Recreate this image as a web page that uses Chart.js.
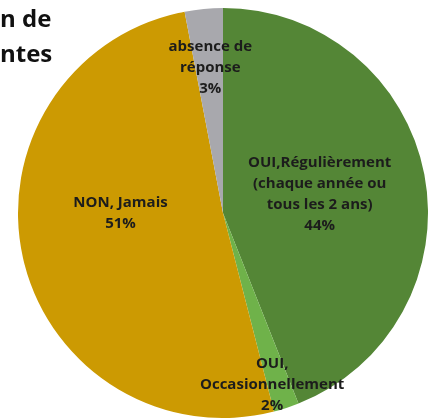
<!DOCTYPE html>
<html>
<head>
<meta charset="utf-8">
<script src="https://cdn.jsdelivr.net/npm/chart.js@4"></script>
<style>
  html, body { margin: 0; padding: 0; background: #fff; }
  #wrap { position: relative; width: 434px; height: 418px; overflow: hidden; }
  canvas { position: absolute; left: 0; top: 0; }
  .titre {
    position: absolute; left: 0; font-family: "Open Sans", sans-serif;
    font-weight: bold; font-size: 24px; color: #111; line-height: 1; white-space: nowrap;
  }
</style>
</head>
<body>
<div id="wrap">
  <canvas id="pie" width="434" height="418"></canvas>
  <div class="titre" style="top:6px">n de</div>
  <div class="titre" style="top:41px">ntes</div>
</div>
<script>
// données
const categories = [
    ['OUI,Régulièrement', '(chaque année ou', 'tous les 2 ans)'],
    ['OUI,', 'Occasionnellement'],
    ['NON, Jamais'],
    ['absence de', 'réponse']
];
const valeurs = [44, 2, 51, 3];
const couleurs = ['#548636', '#6fb24a', '#cc9a02', '#a8a8ad'];

// placement des étiquettes : fraction du rayon + angle (degrés, 0 = midi, sens horaire)
// null = angle du milieu de la part
const placement = [
    { r: 0.48, angle: null },
    { r: 0.87, angle: 164 },
    { r: 0.50, angle: 270 },
    { r: 0.71, angle: 355 }
];

const etiquettes = {
    id: 'etiquettes',
    afterDatasetsDraw(chart) {
        var ctx = chart.ctx;
        var meta = chart.getDatasetMeta(0);
        ctx.save();
        ctx.font = 'bold 15px "Open Sans", sans-serif';
        ctx.fillStyle = '#1c1c1c';
        ctx.textAlign = 'center';
        ctx.textBaseline = 'middle';
        meta.data.forEach(function(arc, i) {
            var p = placement[i];
            var a;
            if (p.angle === null) {
                a = (arc.startAngle + arc.endAngle) / 2;
            } else {
                a = p.angle * Math.PI / 180 - Math.PI / 2;
            }
            var r = arc.outerRadius * p.r;
            var x = arc.x + Math.cos(a) * r;
            var y = arc.y + Math.sin(a) * r;
            var lignes = categories[i].concat([valeurs[i] + '%']);
            var h = 21;
            var y0 = y - (lignes.length - 1) * h / 2;
            lignes.forEach(function(t, k) {
                ctx.fillText(t, x, y0 + k * h);
            });
        });
        ctx.restore();
    }
};

var ctx = document.getElementById('pie').getContext('2d');
new Chart(ctx, {
    type: 'pie',
    data: {
        labels: categories.map(c => c.join(' ')),
        datasets: [{
            data: valeurs,
            backgroundColor: couleurs,
            borderWidth: 0
        }]
    },
    options: {
        responsive: false,
        animation: false,
        layout: { padding: { left: 18, right: 6, top: 8, bottom: 0 } },
        plugins: {
            legend: { display: false },
            title: { display: false },
            tooltip: { enabled: false }
        }
    },
    plugins: [etiquettes]
});
</script>
</body>
</html>
